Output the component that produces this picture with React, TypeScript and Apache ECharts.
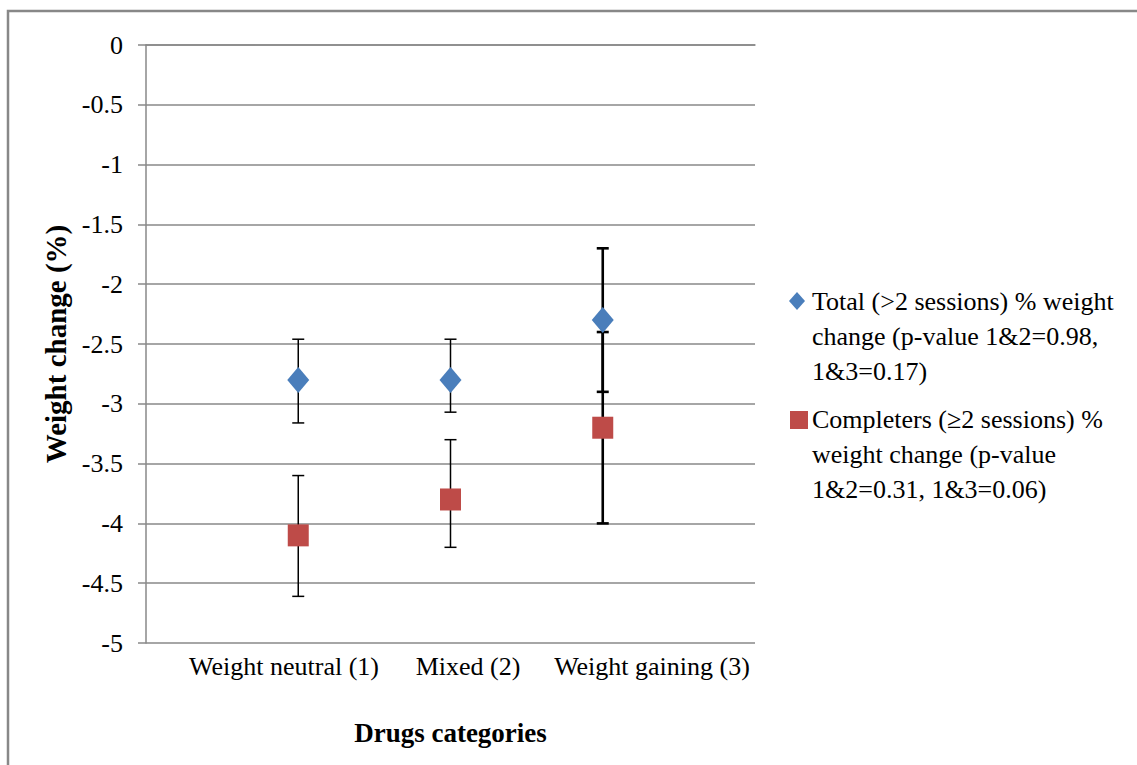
import React, { useEffect, useRef } from "react";
import * as echarts from "echarts";

const categories = ["Weight neutral (1)", "Mixed (2)", "Weight gaining (3)"];
const xPositions = [1, 2, 3];

const totalName = "Total (>2 sessions) % weight\nchange (p-value 1&2=0.98,\n1&3=0.17)";
const totalMean = [-2.8, -2.8, -2.3];
const totalHigh = [-2.46, -2.46, -1.7];
const totalLow = [-3.16, -3.07, -2.9];

const compName = "Completers (≥2 sessions) %\nweight change (p-value\n1&2=0.31, 1&3=0.06)";
const compMean = [-4.1, -3.8, -3.2];
const compHigh = [-3.6, -3.3, -2.4];
const compLow = [-4.61, -4.2, -4.0];

const yTicks = { min: -5, max: 0, interval: 0.5 };

const FONT = "Liberation Serif";
const GRID_COLOR = "#888888";
const BLUE = "#4a7ebb";
const RED = "#be4b48";

const categoryLabelX = [284, 468, 652];

export default function App() {
  const ref = useRef<HTMLDivElement>(null);

  useEffect(() => {
    if (!ref.current) return;
    const chart = echarts.init(ref.current, null, { renderer: "svg" });

    const errData = (low: number[], high: number[]) =>
      xPositions.map((x, i) => [x, low[i], high[i]]);

    const renderErr = (params: any, api: any) => {
      const x = api.value(0);
      const lo = api.coord([x, api.value(1)]);
      const hi = api.coord([x, api.value(2)]);
      const w = 6;
      const lw = params.dataIndex === 2 ? 2.6 : 1.5;
      const style = { stroke: "#000", lineWidth: lw };
      return {
        type: "group",
        children: [
          { type: "line", shape: { x1: lo[0], y1: lo[1], x2: hi[0], y2: hi[1] }, style },
          { type: "line", shape: { x1: lo[0] - w, y1: lo[1], x2: lo[0] + w, y2: lo[1] }, style },
          { type: "line", shape: { x1: hi[0] - w, y1: hi[1], x2: hi[0] + w, y2: hi[1] }, style },
        ],
      };
    };

    const legendText = (y: number, text: string) => ({
      type: "text",
      left: 812,
      top: y,
      style: {
        text,
        fontFamily: FONT,
        fontSize: 26,
        fill: "#000",
        lineHeight: 35,
      },
    });

    chart.setOption({
      animation: false,
      backgroundColor: "#ffffff",
      textStyle: { fontFamily: FONT },
      grid: { left: 146, top: 45, width: 609, height: 598, containLabel: false },
      xAxis: {
        type: "value",
        min: 0,
        max: 4,
        name: "Drugs categories",
        nameLocation: "middle",
        nameGap: 76,
        nameTextStyle: { fontFamily: FONT, fontSize: 27, fontWeight: "bold", color: "#000" },
        axisLine: { show: true, lineStyle: { color: GRID_COLOR, width: 1.5 } },
        axisTick: { show: false },
        axisLabel: { show: false },
        splitLine: { show: false },
      },
      yAxis: {
        type: "value",
        min: yTicks.min,
        max: yTicks.max,
        interval: yTicks.interval,
        name: "Weight change (%)",
        nameLocation: "middle",
        nameRotate: 90,
        nameGap: 75,
        nameTextStyle: { fontFamily: FONT, fontSize: 29, fontWeight: "bold", color: "#000" },
        axisLine: { show: true, lineStyle: { color: GRID_COLOR, width: 1.5 } },
        axisTick: { show: true, inside: false, length: 8, lineStyle: { color: GRID_COLOR, width: 1.5 } },
        axisLabel: { fontFamily: FONT, fontSize: 26, color: "#000", margin: 23 },
        splitLine: { show: true, lineStyle: { color: GRID_COLOR, width: 1.5 } },
      },
      series: [
        {
          type: "custom",
          name: "err-total",
          renderItem: renderErr,
          data: errData(totalLow, totalHigh),
          encode: { x: 0, y: [1, 2] },
          z: 2,
          silent: true,
        },
        {
          type: "custom",
          name: "err-comp",
          renderItem: renderErr,
          data: errData(compLow, compHigh),
          encode: { x: 0, y: [1, 2] },
          z: 2,
          silent: true,
        },
        {
          type: "scatter",
          name: totalName,
          symbol: "diamond",
          symbolSize: [22, 26],
          itemStyle: { color: BLUE, opacity: 1 },
          data: xPositions.map((x, i) => [x, totalMean[i]]),
          z: 5,
        },
        {
          type: "scatter",
          name: compName,
          symbol: "rect",
          symbolSize: [21, 22],
          itemStyle: { color: RED, opacity: 1 },
          data: xPositions.map((x, i) => [x, compMean[i]]),
          z: 5,
        },
      ],
      graphic: [
        {
          type: "rect",
          shape: { x: 8, y: 11, width: 1300, height: 900 },
          style: { fill: "none", stroke: GRID_COLOR, lineWidth: 2.5 },
          silent: true,
          z: -1,
        },
        ...categories.map((c, i) => ({
          type: "text",
          x: categoryLabelX[i],
          y: 666,
          style: {
            text: c,
            fontFamily: FONT,
            fontSize: 26,
            fill: "#000",
            textAlign: "center",
            textVerticalAlign: "middle",
          },
        })),
        {
          type: "polygon",
          shape: { points: [[797, 292], [805, 301], [797, 310], [789, 301]] },
          style: { fill: BLUE },
        },
        legendText(284, totalName),
        {
          type: "rect",
          shape: { x: 790, y: 411, width: 18, height: 18 },
          style: { fill: RED },
        },
        legendText(402, compName),
      ],
    });

    return () => chart.dispose();
  }, []);

  return (
    <div
      ref={ref}
      style={{ position: "fixed", left: 0, top: 0, width: 1137, height: 765, background: "#fff" }}
    />
  );
}
